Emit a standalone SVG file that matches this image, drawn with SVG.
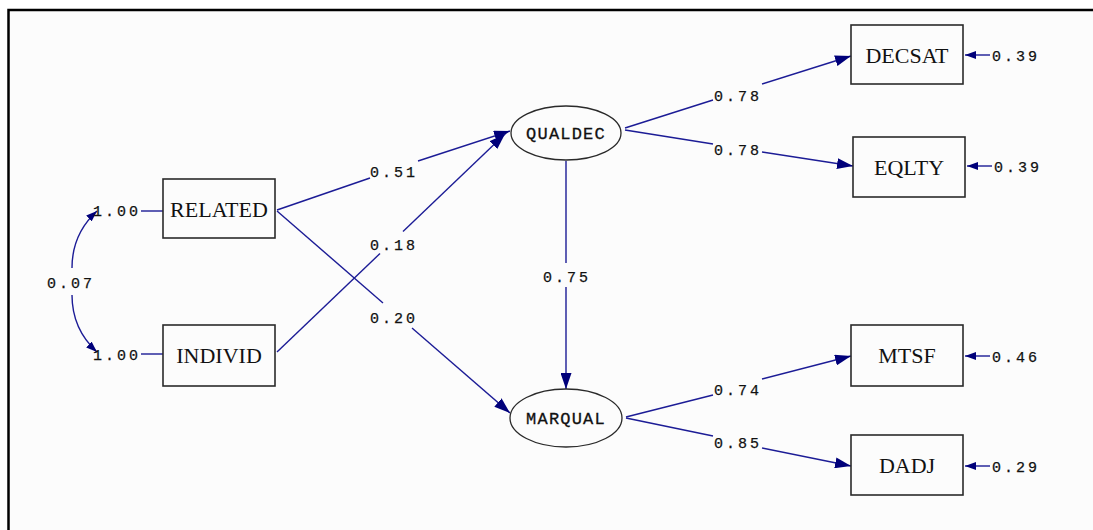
<svg xmlns="http://www.w3.org/2000/svg" width="1093" height="530" viewBox="0 0 1093 530">
<style>
.bg{fill:#fcfcfc}
.box{fill:none;stroke:#2a2a2a;stroke-width:1.6}
.ell{fill:none;stroke:#2a2a2a;stroke-width:1.3}
.lbl{font-family:"Liberation Serif",serif;font-size:22px;fill:#111;text-anchor:middle}
.lat{font-family:"Liberation Mono",monospace;font-size:17px;fill:#111;text-anchor:middle;letter-spacing:1.2px;stroke:#111;stroke-width:0.3}
.num{font-family:"Liberation Mono",monospace;font-size:15px;fill:#111;letter-spacing:3px;stroke:#111;stroke-width:0.25}
.c{fill:none;stroke:#1c1c96;stroke-width:1.4}
</style>
<defs>
<marker id="ah" viewBox="0 0 16 11" refX="16" refY="5.5" markerWidth="16" markerHeight="11" markerUnits="userSpaceOnUse" orient="auto">
<path d="M0,0 L16,5.5 L0,11 z" fill="#00007a"/>
</marker>
<marker id="ahs" viewBox="0 0 11 8" refX="11" refY="4" markerWidth="11" markerHeight="8" markerUnits="userSpaceOnUse" orient="auto-start-reverse">
<path d="M0,0 L11,4 L0,8 z" fill="#00007a"/>
</marker>
</defs>
<rect x="0" y="0" width="1093" height="530" fill="#ffffff"/>
<rect class="bg" x="9" y="11" width="1084" height="519"/>
<path d="M8.5,530 V10 H1093" fill="none" stroke="#000" stroke-width="2.5"/>

<g id="connectors">
<path class="c" d="M277,210 L370,178"/>
<path class="c" d="M418,161 L510,131" marker-end="url(#ah)"/>
<path class="c" d="M277,352 L380,253.5"/>
<path class="c" d="M403,231.5 L505,134" marker-end="url(#ah)"/>
<path class="c" d="M277,211 L383,303"/>
<path class="c" d="M412,328 L510,413" marker-end="url(#ah)"/>
<path class="c" d="M566,161 L566,263"/>
<path class="c" d="M566,287 L566,389" marker-end="url(#ah)"/>
<path class="c" d="M625,128 L713,100"/>
<path class="c" d="M762,84 L851,56" marker-end="url(#ah)"/>
<path class="c" d="M625,130 L713,144"/>
<path class="c" d="M762,152 L853,166" marker-end="url(#ah)"/>
<path class="c" d="M626,417 L713,395"/>
<path class="c" d="M762,379 L851,356" marker-end="url(#ah)"/>
<path class="c" d="M626,418 L713,436"/>
<path class="c" d="M762,448 L851,466" marker-end="url(#ah)"/>
<path class="c" d="M990,55 L965,55" marker-end="url(#ahs)"/>
<path class="c" d="M992,166 L967,166" marker-end="url(#ahs)"/>
<path class="c" d="M990,356 L965,356" marker-end="url(#ahs)"/>
<path class="c" d="M990,466 L965,466" marker-end="url(#ahs)"/>
<path class="c" d="M141,211 L163,211"/>
<path class="c" d="M141,354 L163,354"/>
<path class="c" d="M72,268 Q72,234 97,211" marker-end="url(#ahs)"/>
<path class="c" d="M72,295 Q72,329 97,352" marker-end="url(#ahs)"/>
</g>

<g id="labels">
<text class="num" x="370" y="177">0.51</text>
<text class="num" x="370" y="250">0.18</text>
<text class="num" x="370" y="323">0.20</text>
<text class="num" x="543" y="282">0.75</text>
<text class="num" x="714" y="101">0.78</text>
<text class="num" x="714" y="155">0.78</text>
<text class="num" x="714" y="395">0.74</text>
<text class="num" x="714" y="448">0.85</text>
<text class="num" x="992" y="61">0.39</text>
<text class="num" x="994" y="172">0.39</text>
<text class="num" x="992" y="362">0.46</text>
<text class="num" x="992" y="472">0.29</text>
<text class="num" x="93" y="216">1.00</text>
<text class="num" x="93" y="360">1.00</text>
<text class="num" x="47" y="288">0.07</text>
</g>

<g id="RELATED"><rect class="box" x="163" y="179" width="112" height="59"/><text class="lbl" x="219" y="217">RELATED</text></g>
<g id="INDIVID"><rect class="box" x="163" y="325" width="112" height="61"/><text class="lbl" x="219" y="363">INDIVID</text></g>
<g id="QUALDEC"><ellipse class="ell" cx="566" cy="133" rx="55" ry="27"/><text class="lat" x="566" y="139">QUALDEC</text></g>
<g id="MARQUAL"><ellipse class="ell" cx="566" cy="418" rx="56" ry="29"/><text class="lat" x="566" y="424">MARQUAL</text></g>
<g id="DECSAT"><rect class="box" x="851" y="25" width="112" height="59"/><text class="lbl" x="907" y="63">DECSAT</text></g>
<g id="EQLTY"><rect class="box" x="853" y="137" width="112" height="60"/><text class="lbl" x="909" y="175">EQLTY</text></g>
<g id="MTSF"><rect class="box" x="851" y="325" width="112" height="61"/><text class="lbl" x="907" y="363">MTSF</text></g>
<g id="DADJ"><rect class="box" x="851" y="435" width="112" height="60"/><text class="lbl" x="907" y="473">DADJ</text></g>
</svg>
